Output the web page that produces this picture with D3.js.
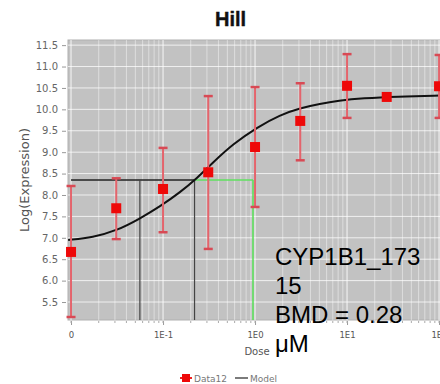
<!DOCTYPE html>
<html>
<head>
<meta charset="utf-8">
<script src="https://cdnjs.cloudflare.com/ajax/libs/d3/7.8.5/d3.min.js"></script>
<style>
  html, body { margin: 0; padding: 0; background: #fff; overflow: hidden; }
  svg { display: block; }
</style>
</head>
<body>
<svg id="chart" width="440" height="384"></svg>
<script>
// ---- data ----
const title = "Hill";
const doses  = [0, 0.031, 0.1, 0.31, 1.0, 3.1, 10, 27, 100];
const means  = [6.67, 7.69, 8.14, 8.53, 9.12, 9.73, 10.55, 10.29, 10.54];
const upper  = [8.21, 8.39, 9.10, 10.31, 10.52, 10.61, 11.29, 10.29, 11.27];
const lower  = [5.15, 6.97, 7.13, 6.74, 7.72, 8.81, 9.80, 10.29, 9.80];

const modelDose  = [0.0093, 0.0173, 0.0316, 0.0562, 0.0927, 0.153, 0.234, 0.349, 0.576, 1.05, 1.87, 3.09, 5.09, 8.0, 14.9, 34.9, 102, 119];
const modelValue = [6.95, 7.01, 7.17, 7.45, 7.73, 8.06, 8.39, 8.76, 9.19, 9.58, 9.87, 10.03, 10.13, 10.20, 10.26, 10.30, 10.32, 10.33];

const bmrLevel = 8.35;
const bmdl = 0.056, bmd = 0.22, bmdu = 0.95;
const zeroDose = 0.01;           // where dose 0 is drawn on the log axis

const xTickValues = [0.01, 0.1, 1, 10, 100];
const xTickLabels = ["0", "1E-1", "1E0", "1E1", "1E2"];
const yTickValues = [5.5, 6.0, 6.5, 7.0, 7.5, 8.0, 8.5, 9.0, 9.5, 10.0, 10.5, 11.0, 11.5];
const annotation = ["CYP1B1_173", "15", "BMD = 0.28", "\u03bcM"];
const legendItems = ["Data12", "Model"];

// ---- layout ----
const svg = d3.select("#chart");
const L = 68, R = 446, T = 40, B = 320;

const x = d3.scaleLog().domain([0.00927, 119]).range([L, R]);
const y = d3.scaleLinear().domain([5.08, 11.62]).range([B, T]);
const xd = d => x(d === 0 ? zeroDose : d);

// title
svg.append("text")
  .attr("x", 230.5).attr("y", 26)
  .attr("text-anchor", "middle")
  .attr("font-family", "Liberation Sans, Arial, sans-serif")
  .attr("font-weight", "bold").attr("font-size", 20)
  .attr("fill", "#111").attr("stroke", "#111").attr("stroke-width", 0.4)
  .text(title);

// plot background
svg.append("rect")
  .attr("x", L).attr("y", T).attr("width", R - L).attr("height", B - T)
  .attr("fill", "#c2c2c2").attr("stroke", "#b0b0b0");

// vertical grid (log)
const minorX = [];
for (let e = -3; e <= 2; e++) for (let k = 1; k <= 9; k++) {
  const v = k * Math.pow(10, e);
  if (v >= x.domain()[0] && v <= x.domain()[1]) minorX.push(v);
}
const grid = svg.append("g");
grid.selectAll("line.vx").data(minorX).join("line")
  .attr("x1", d => x(d)).attr("x2", d => x(d))
  .attr("y1", T).attr("y2", B)
  .attr("stroke", "#ffffff")
  .attr("stroke-opacity", d => (Math.abs(Math.log10(d) - Math.round(Math.log10(d))) < 1e-9) ? 0.85 : 0.45)
  .attr("stroke-width", 1);

// horizontal grid
grid.selectAll("line.hy").data(yTickValues).join("line")
  .attr("x1", L).attr("x2", R)
  .attr("y1", d => y(d)).attr("y2", d => y(d))
  .attr("stroke", "#ffffff").attr("stroke-opacity", 0.75).attr("stroke-width", 1);

// y axis
const yAxis = d3.axisLeft(y).tickValues(yTickValues).tickFormat(d3.format(".1f")).tickSize(4).tickPadding(4);
const gy = svg.append("g").attr("transform", `translate(${L - 2},0)`).call(yAxis);
gy.select(".domain").remove();
gy.selectAll("line").attr("stroke", "#999");
gy.selectAll("text").attr("font-family", "DejaVu Sans, Verdana, sans-serif")
  .attr("font-size", 10).attr("fill", "#666");

// x axis
const xAxis = d3.axisBottom(x).tickValues(xTickValues)
  .tickFormat((d, i) => xTickLabels[i]).tickSize(4).tickPadding(7);
const gx = svg.append("g").attr("transform", `translate(0,${B + 1})`).call(xAxis);
gx.select(".domain").remove();
gx.selectAll("line").attr("stroke", "#999");
gx.selectAll("text").attr("font-family", "DejaVu Sans, Verdana, sans-serif")
  .attr("font-size", 8.5).attr("fill", "#555");
// minor x ticks
svg.append("g").selectAll("line").data(minorX.filter(v => x(v) <= 440)).join("line")
  .attr("x1", d => x(d)).attr("x2", d => x(d))
  .attr("y1", B + 1).attr("y2", B + 3)
  .attr("stroke", "#aaa");

// axis titles
svg.append("text")
  .attr("transform", `translate(29,180) rotate(-90)`)
  .attr("text-anchor", "middle")
  .attr("font-family", "DejaVu Sans, Verdana, sans-serif")
  .attr("font-size", 13).attr("fill", "#555")
  .text("Log(Expression)");
svg.append("text")
  .attr("x", 257).attr("y", 355)
  .attr("text-anchor", "middle")
  .attr("font-family", "DejaVu Sans, Verdana, sans-serif")
  .attr("font-size", 10).attr("fill", "#555")
  .text("Dose");

// BMD guide lines
const guides = svg.append("g");
guides.append("line").attr("x1", x(zeroDose)).attr("x2", x(bmd))
  .attr("y1", y(bmrLevel)).attr("y2", y(bmrLevel))
  .attr("stroke", "#222").attr("stroke-width", 1.3);
[bmdl, bmd].forEach(v => guides.append("line")
  .attr("x1", x(v)).attr("x2", x(v)).attr("y1", y(bmrLevel)).attr("y2", B)
  .attr("stroke", "#444").attr("stroke-width", 1.2));
guides.append("line").attr("x1", x(bmd)).attr("x2", x(bmdu))
  .attr("y1", y(bmrLevel)).attr("y2", y(bmrLevel))
  .attr("stroke", "#5fe05f").attr("stroke-width", 1.4);
guides.append("line").attr("x1", x(bmdu)).attr("x2", x(bmdu))
  .attr("y1", y(bmrLevel)).attr("y2", B)
  .attr("stroke", "#5fe05f").attr("stroke-width", 1.6);

// model curve
const modelPts = modelDose.map((d, i) => [d, modelValue[i]]);
svg.append("path")
  .datum(modelPts)
  .attr("d", d3.line().x(d => x(d[0])).y(d => y(d[1])).curve(d3.curveBasis))
  .attr("fill", "none").attr("stroke", "#111").attr("stroke-width", 2);

// error bars + markers
const pts = doses.map((d, i) => ({ d, m: means[i], hi: upper[i], lo: lower[i] }));
const eb = svg.append("g");
eb.selectAll("line.stem").data(pts.filter(p => p.hi > p.lo)).join("line")
  .attr("x1", p => xd(p.d)).attr("x2", p => xd(p.d))
  .attr("y1", p => y(p.hi)).attr("y2", p => y(p.lo))
  .attr("stroke", "#e4646c").attr("stroke-width", 2);
["hi", "lo"].forEach(k => {
  eb.selectAll("line.cap" + k).data(pts.filter(p => p.hi > p.lo)).join("line")
    .attr("x1", p => xd(p.d) - 4.5).attr("x2", p => xd(p.d) + 4.5)
    .attr("y1", p => y(p[k])).attr("y2", p => y(p[k]))
    .attr("stroke", "#d84a55").attr("stroke-width", 2.5);
});
eb.selectAll("rect").data(pts).join("rect")
  .attr("x", p => xd(p.d) - 5).attr("y", p => y(p.m) - 5)
  .attr("width", 10).attr("height", 10)
  .attr("fill", "#ee0808");

// legend
const lg = svg.append("g").attr("font-family", "DejaVu Sans, Verdana, sans-serif")
  .attr("font-size", 9).attr("fill", "#777");
lg.append("line").attr("x1", 180).attr("x2", 192).attr("y1", 378).attr("y2", 378)
  .attr("stroke", "#e22").attr("stroke-width", 2);
lg.append("rect").attr("x", 182).attr("y", 374).attr("width", 8).attr("height", 8).attr("fill", "#ee0808");
lg.append("text").attr("x", 194).attr("y", 381.5).text(legendItems[0]);
lg.append("line").attr("x1", 235).attr("x2", 248).attr("y1", 378).attr("y2", 378)
  .attr("stroke", "#333").attr("stroke-width", 1.3);
lg.append("text").attr("x", 250).attr("y", 381.5).text(legendItems[1]);

// annotation text
const ann = svg.append("text")
  .attr("font-family", "Liberation Sans, Arial, sans-serif")
  .attr("font-size", 24).attr("fill", "#000");
annotation.forEach((t, i) => ann.append("tspan").attr("x", 275).attr("y", 265 + i * 29).text(t));
</script>
</body>
</html>
